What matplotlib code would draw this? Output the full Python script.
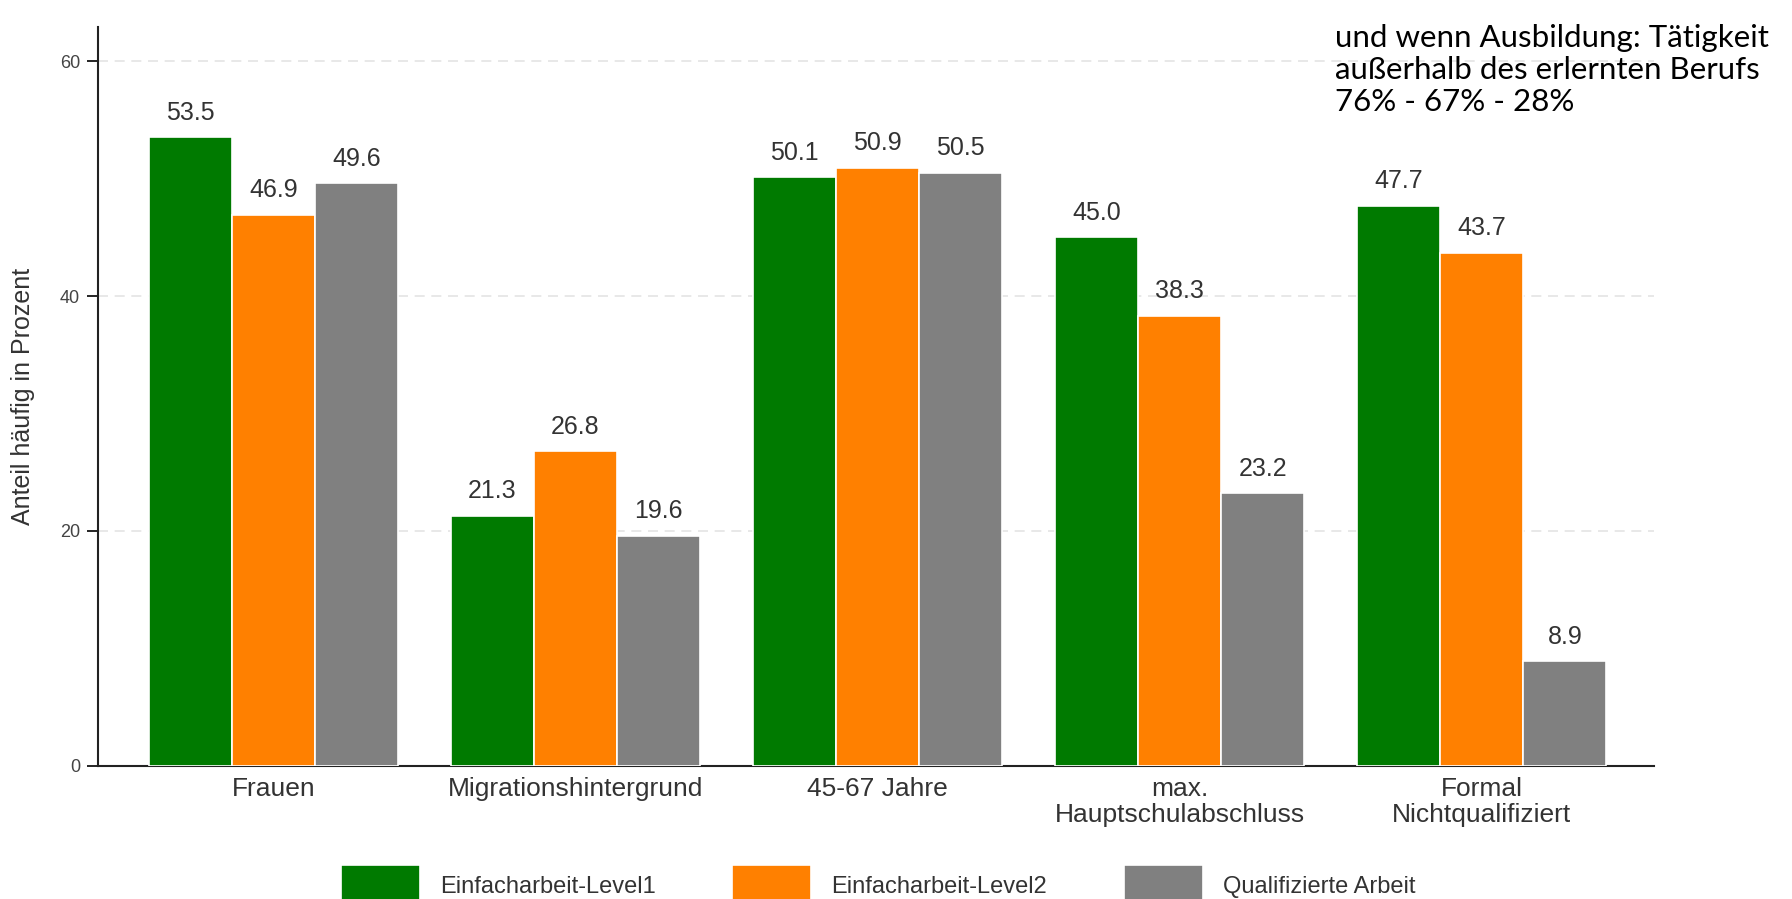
import numpy as np
import matplotlib.pyplot as plt

# categories and values
categories = ['Frauen', 'Migrationshintergrund', '45-67 Jahre',
              'max.\nHauptschulabschluss', 'Formal\nNichtqualifiziert']
level1 = [53.5, 21.3, 50.1, 45.0, 47.7]
level2 = [46.9, 26.8, 50.9, 38.3, 43.7]
qualified = [49.6, 19.6, 50.5, 23.2, 8.9]
series_names = ['Einfacharbeit-Level1', 'Einfacharbeit-Level2', 'Qualifizierte Arbeit']
colors = ['#007a00', '#ff8000', '#808080']
note_lines = ['und wenn Ausbildung: Tätigkeit',
              'außerhalb des erlernten Berufs',
              '76% - 67% - 28%']

plt.rcParams['font.family'] = ['Liberation Sans', 'DejaVu Sans']

fig = plt.figure(figsize=(17.92, 8.99), dpi=100)
ax = fig.add_axes([0.0547, 0.148, 0.8683, 0.822])

x = np.arange(len(categories))
width = 0.275
for i, (vals, name, col) in enumerate(zip([level1, level2, qualified], series_names, colors)):
    bars = ax.bar(x + (i - 1) * width, vals, width, color=col, edgecolor='white',
                  linewidth=1.2, label=name, zorder=3)
    ax.bar_label(bars, labels=['%.1f' % v for v in vals], padding=9,
                 fontsize=18, color='#333333')

ax.set_xlim(-0.58, 4.57)
ax.set_ylim(0, 62.9)
ax.set_yticks([0, 20, 40, 60])
ax.set_xticks(x)
ax.set_xticklabels(categories, fontsize=19, color='#333333', linespacing=1.1)
ax.tick_params(axis='x', length=0, pad=8)
ax.tick_params(axis='y', length=8, width=1.2, labelsize=13, labelcolor='#444444', pad=5)
ax.set_ylabel('Anteil häufig in Prozent', fontsize=18, color='#333333', labelpad=18)

ax.grid(axis='y', linestyle=(0, (6, 4)), color='#e4e4e4', linewidth=1.2, zorder=0)
for s in ['top', 'right']:
    ax.spines[s].set_visible(False)
for s in ['left', 'bottom']:
    ax.spines[s].set_linewidth(1.5)
    ax.spines[s].set_color('#222222')

fig.legend(loc='center', bbox_to_anchor=(0.490, 0.015), ncol=3, frameon=False,
           fontsize=17, handlelength=3.35, handleheight=2.3, handletextpad=0.85,
           columnspacing=3.25, labelcolor='#333333')

fig.text(0.745, 0.973, '\n'.join(note_lines), fontsize=22.5, family='Lato',
         va='top', ha='left', linespacing=1.16)

fig.savefig('out.png', dpi=100)
